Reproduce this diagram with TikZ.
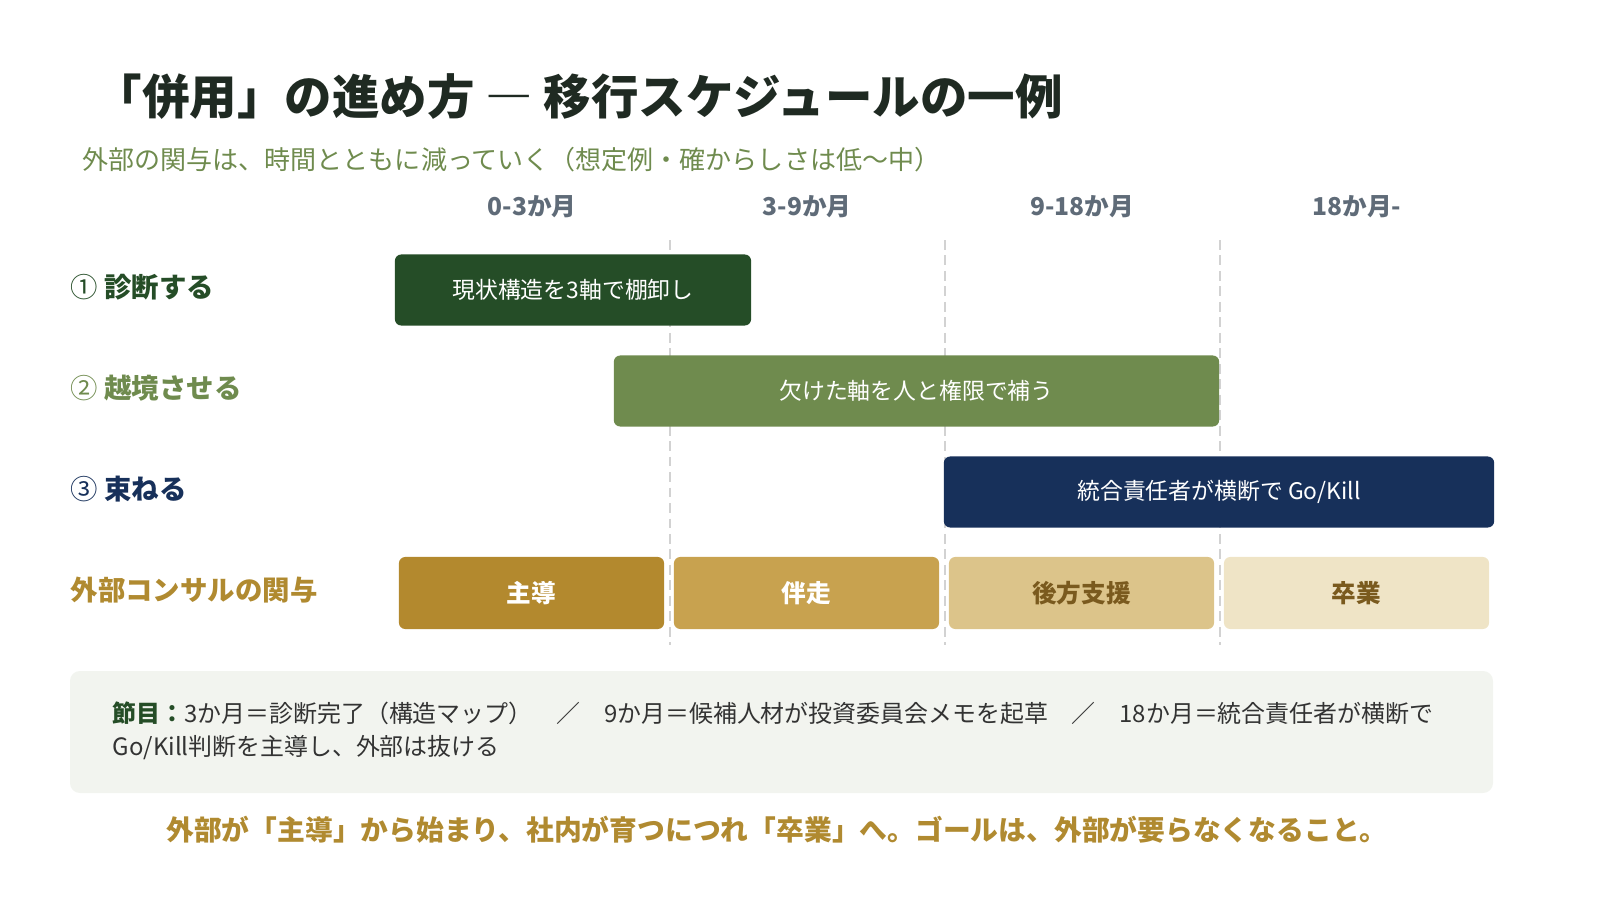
\documentclass[tikz,border=0pt]{standalone}
\usepackage{fontspec}
\setmainfont{Noto Sans CJK JP}
\usetikzlibrary{positioning}

\definecolor{titleInk}{HTML}{1F2A22}
\definecolor{diagGreen}{HTML}{254D27}
\definecolor{crossGreen}{HTML}{6F8B4E}
\definecolor{bindNavy}{HTML}{17305A}
\definecolor{headGray}{HTML}{5F6B78}
\definecolor{consGold}{HTML}{B08A30}
\definecolor{phaseA}{HTML}{B3892E}
\definecolor{phaseB}{HTML}{C8A24F}
\definecolor{phaseC}{HTML}{DCC48A}
\definecolor{phaseD}{HTML}{EFE4C6}
\definecolor{phaseInk}{HTML}{7A5A1E}
\definecolor{noteBg}{HTML}{F2F4EF}
\definecolor{noteInk}{HTML}{333333}
\definecolor{gridGray}{HTML}{D2D2D2}

\tikzset{
  bar/.style={rounded corners=1.8pt, text=white, minimum height=0.71cm,
    inner sep=0pt, font=\fontsize{6.5}{7}\selectfont},
  phase/.style={bar, minimum width=2.65cm, minimum height=0.72cm,
    font=\fontsize{7}{8}\selectfont\bfseries},
  rowlabel/.style={anchor=west, inner sep=0pt, font=\fontsize{7.8}{9}\selectfont\bfseries},
  colhead/.style={inner sep=0pt, text=headGray, font=\fontsize{7}{8}\selectfont\bfseries},
  gridline/.style={gridGray, line width=0.4pt, dash pattern=on 2.8pt off 1.6pt}
}

\begin{document}
\begin{tikzpicture}[x=0.01cm, y=-0.01cm]
  \useasboundingbox (0,0) rectangle (1600,900);

  % title
  \node [anchor=west, inner sep=0pt, text=titleInk, font=\fontsize{13.5}{15}\selectfont\bfseries] (title) at (94,97) {「併用」の進め方 ― 移行スケジュールの一例};
  \node [anchor=west, inner sep=0pt, text=crossGreen, font=\fontsize{7.4}{9}\selectfont] (subtitle) at (82,160) {外部の関与は、時間とともに減っていく（想定例・確からしさは低〜中）};

  % grid
  \foreach \x in {670,945,1220}
    \draw [gridline] (\x,240) -- (\x,645);
  \node [colhead] (h1) at (532,207) {0-3か月};
  \node [colhead] (h2) at (807,207) {3-9か月};
  \node [colhead] (h3) at (1082,207) {9-18か月};
  \node [colhead] (h4) at (1357,207) {18か月-};

  % rows
  \node [rowlabel, text=diagGreen] (r1) at (70,287) {{\mdseries ①} 診断する};
  \node [rowlabel, text=crossGreen] (r2) at (70,388) {{\mdseries ②} 越境させる};
  \node [rowlabel, text=bindNavy] (r3) at (70,489) {{\mdseries ③} 束ねる};
  \node [rowlabel, text=consGold] (r4) at (70,590) {外部コンサルの関与};

  \node [bar, fill=diagGreen, minimum width=3.56cm] (diag) at (573,290) {現状構造を3軸で棚卸し};
  \node [bar, fill=crossGreen, minimum width=6.05cm] (cross) at (916.5,391) {欠けた軸を人と権限で補う};
  \node [bar, fill=bindNavy, minimum width=5.5cm] (bind) at (1219,492) {統合責任者が横断で Go/Kill};

  \node [phase, fill=phaseA] (lead) at (531.5,593) {主導};
  \node [phase, fill=phaseB] (run) at (806.5,593) {伴走};
  \node [phase, fill=phaseC, text=phaseInk] (back) at (1081.5,593) {後方支援};
  \node [phase, fill=phaseD, text=phaseInk] (grad) at (1356.5,593) {卒業};

  % milestones
  \fill [noteBg, rounded corners=2.8pt] (70,671) rectangle (1493,793);
  \node [anchor=west, inner sep=0pt, align=left, text=noteInk, font=\fontsize{6.8}{9.4}\selectfont] (note) at (112,731)
    {{\bfseries\color{diagGreen}節目：}3か月＝診断完了（構造マップ）　／　9か月＝候補人材が投資委員会メモを起草　／　18か月＝統合責任者が横断で\\Go/Kill判断を主導し、外部は抜ける};

  \node [inner sep=0pt, text=consGold, font=\fontsize{7.9}{9}\selectfont\bfseries] (goal) at (777,830) {外部が「主導」から始まり、社内が育つにつれ「卒業」へ。ゴールは、外部が要らなくなること。};
\end{tikzpicture}
\end{document}
